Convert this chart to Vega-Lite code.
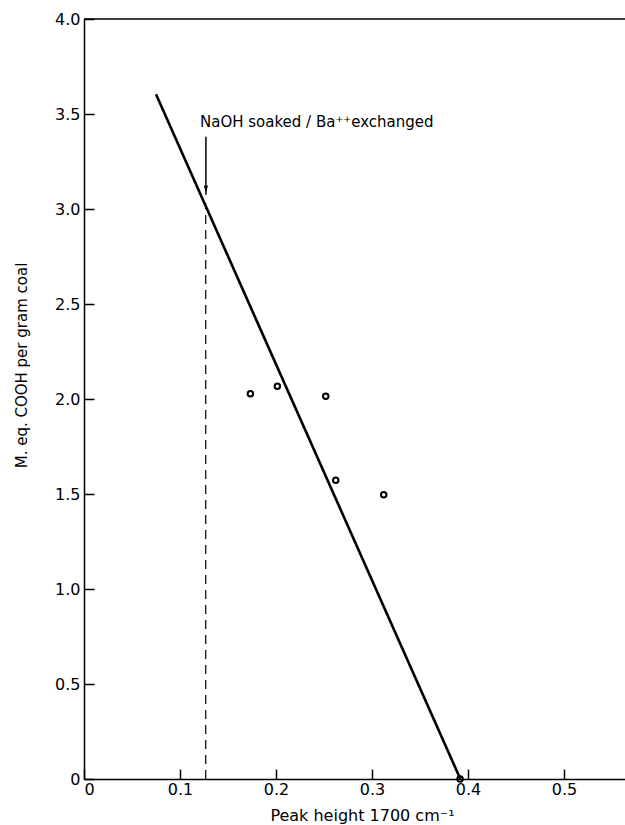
{
  "$schema": "https://vega.github.io/schema/vega-lite/v6.json",
  "width": 541,
  "height": 760,
  "autosize": {"type": "none"},
  "padding": {"left": 84, "top": 19, "right": 0, "bottom": 46},
  "background": "white",
  "config": {
    "view": {"stroke": null},
    "font": "DejaVu Sans",
    "axis": {
      "grid": false,
      "ticks": true,
      "domainColor": "black",
      "domainWidth": 1.5,
      "tickColor": "black",
      "tickWidth": 1.5,
      "labelColor": "black",
      "titleColor": "black",
      "labelFont": "DejaVu Sans",
      "titleFont": "DejaVu Sans",
      "labelFontSize": 16,
      "titleFontSize": 15,
      "titleFontWeight": "normal"
    }
  },
  "datasets": {
    "points": [
      {"x": 0.1733, "y": 2.028},
      {"x": 0.2014, "y": 2.067},
      {"x": 0.2518, "y": 2.014},
      {"x": 0.2622, "y": 1.572},
      {"x": 0.3122, "y": 1.496},
      {"x": 0.3917, "y": 0}
    ],
    "fit": [{"x": 0.075, "y": 3.604}, {"x": 0.392, "y": 0}],
    "dash": [{"x": 0.1268, "y": 0, "y2": 3.03}],
    "arrow": [{"x": 0.127, "y": 3.38, "y2": 3.075}],
    "head": [{"x": 0.127, "y": 3.1}],
    "top": [{"y": 4}],
    "note": [{"x": 0.1208, "y": 3.458, "label": "NaOH soaked / Ba⁺⁺exchanged"}]
  },
  "layer": [
    {
      "data": {"name": "top"},
      "mark": {"type": "rule", "color": "black", "strokeWidth": 1.5},
      "encoding": {"y": {"field": "y", "type": "quantitative", "scale": {"domain": [0, 4], "nice": false, "zero": false}}}
    },
    {
      "data": {"name": "dash"},
      "mark": {"type": "rule", "color": "black", "strokeWidth": 1.2, "strokeDash": [9, 6]},
      "encoding": {
        "x": {"field": "x", "type": "quantitative"},
        "y": {"field": "y", "type": "quantitative"},
        "y2": {"field": "y2"}
      }
    },
    {
      "data": {"name": "arrow"},
      "mark": {"type": "rule", "color": "black", "strokeWidth": 1.5},
      "encoding": {
        "x": {"field": "x", "type": "quantitative"},
        "y": {"field": "y", "type": "quantitative"},
        "y2": {"field": "y2"}
      }
    },
    {
      "data": {"name": "head"},
      "mark": {"type": "point", "shape": "M-0.5,-1.6L0,0L0.5,-1.6", "filled": false, "color": "black", "strokeWidth": 1.5, "size": 30, "opacity": 1},
      "encoding": {
        "x": {"field": "x", "type": "quantitative"},
        "y": {"field": "y", "type": "quantitative"}
      }
    },
    {
      "data": {"name": "fit"},
      "mark": {"type": "line", "color": "black", "strokeWidth": 2.6},
      "encoding": {
        "x": {"field": "x", "type": "quantitative"},
        "y": {"field": "y", "type": "quantitative"}
      }
    },
    {
      "data": {"name": "points"},
      "mark": {"type": "point", "shape": "circle", "filled": false, "color": "black", "strokeWidth": 2, "size": 30, "opacity": 1},
      "encoding": {
        "x": {
          "field": "x", "type": "quantitative",
          "scale": {"domain": [0, 0.5635], "nice": false, "zero": false},
          "axis": {
            "values": [0, 0.1, 0.2, 0.3, 0.4, 0.5],
            "labelExpr": "datum.value == 0 ? '0' : format(datum.value, '.1f')",
            "tickSize": -10,
            "labelPadding": 12,
            "title": "Peak height  1700 cm⁻¹",
            "titleFontSize": 16,
            "titleX": 278,
            "titleY": 36,
            "titleBaseline": "middle",
            "titleAlign": "center"
          }
        },
        "y": {
          "field": "y", "type": "quantitative",
          "scale": {"domain": [0, 4], "nice": false, "zero": false},
          "axis": {
            "values": [0, 0.5, 1, 1.5, 2, 2.5, 3, 3.5, 4],
            "labelExpr": "datum.value == 0 ? '0' : format(datum.value, '.1f')",
            "tickSize": -10,
            "labelPadding": 14,
            "title": "M. eq. COOH per gram coal",
            "titleAngle": -90,
            "titleX": -63,
            "titleY": 346,
            "titleBaseline": "middle",
            "titleAlign": "center"
          }
        }
      }
    },
    {
      "data": {"name": "note"},
      "mark": {"type": "text", "align": "left", "baseline": "middle", "fontSize": 15, "font": "DejaVu Sans", "color": "black"},
      "encoding": {
        "x": {"field": "x", "type": "quantitative"},
        "y": {"field": "y", "type": "quantitative"},
        "text": {"field": "label"}
      }
    }
  ]
}
